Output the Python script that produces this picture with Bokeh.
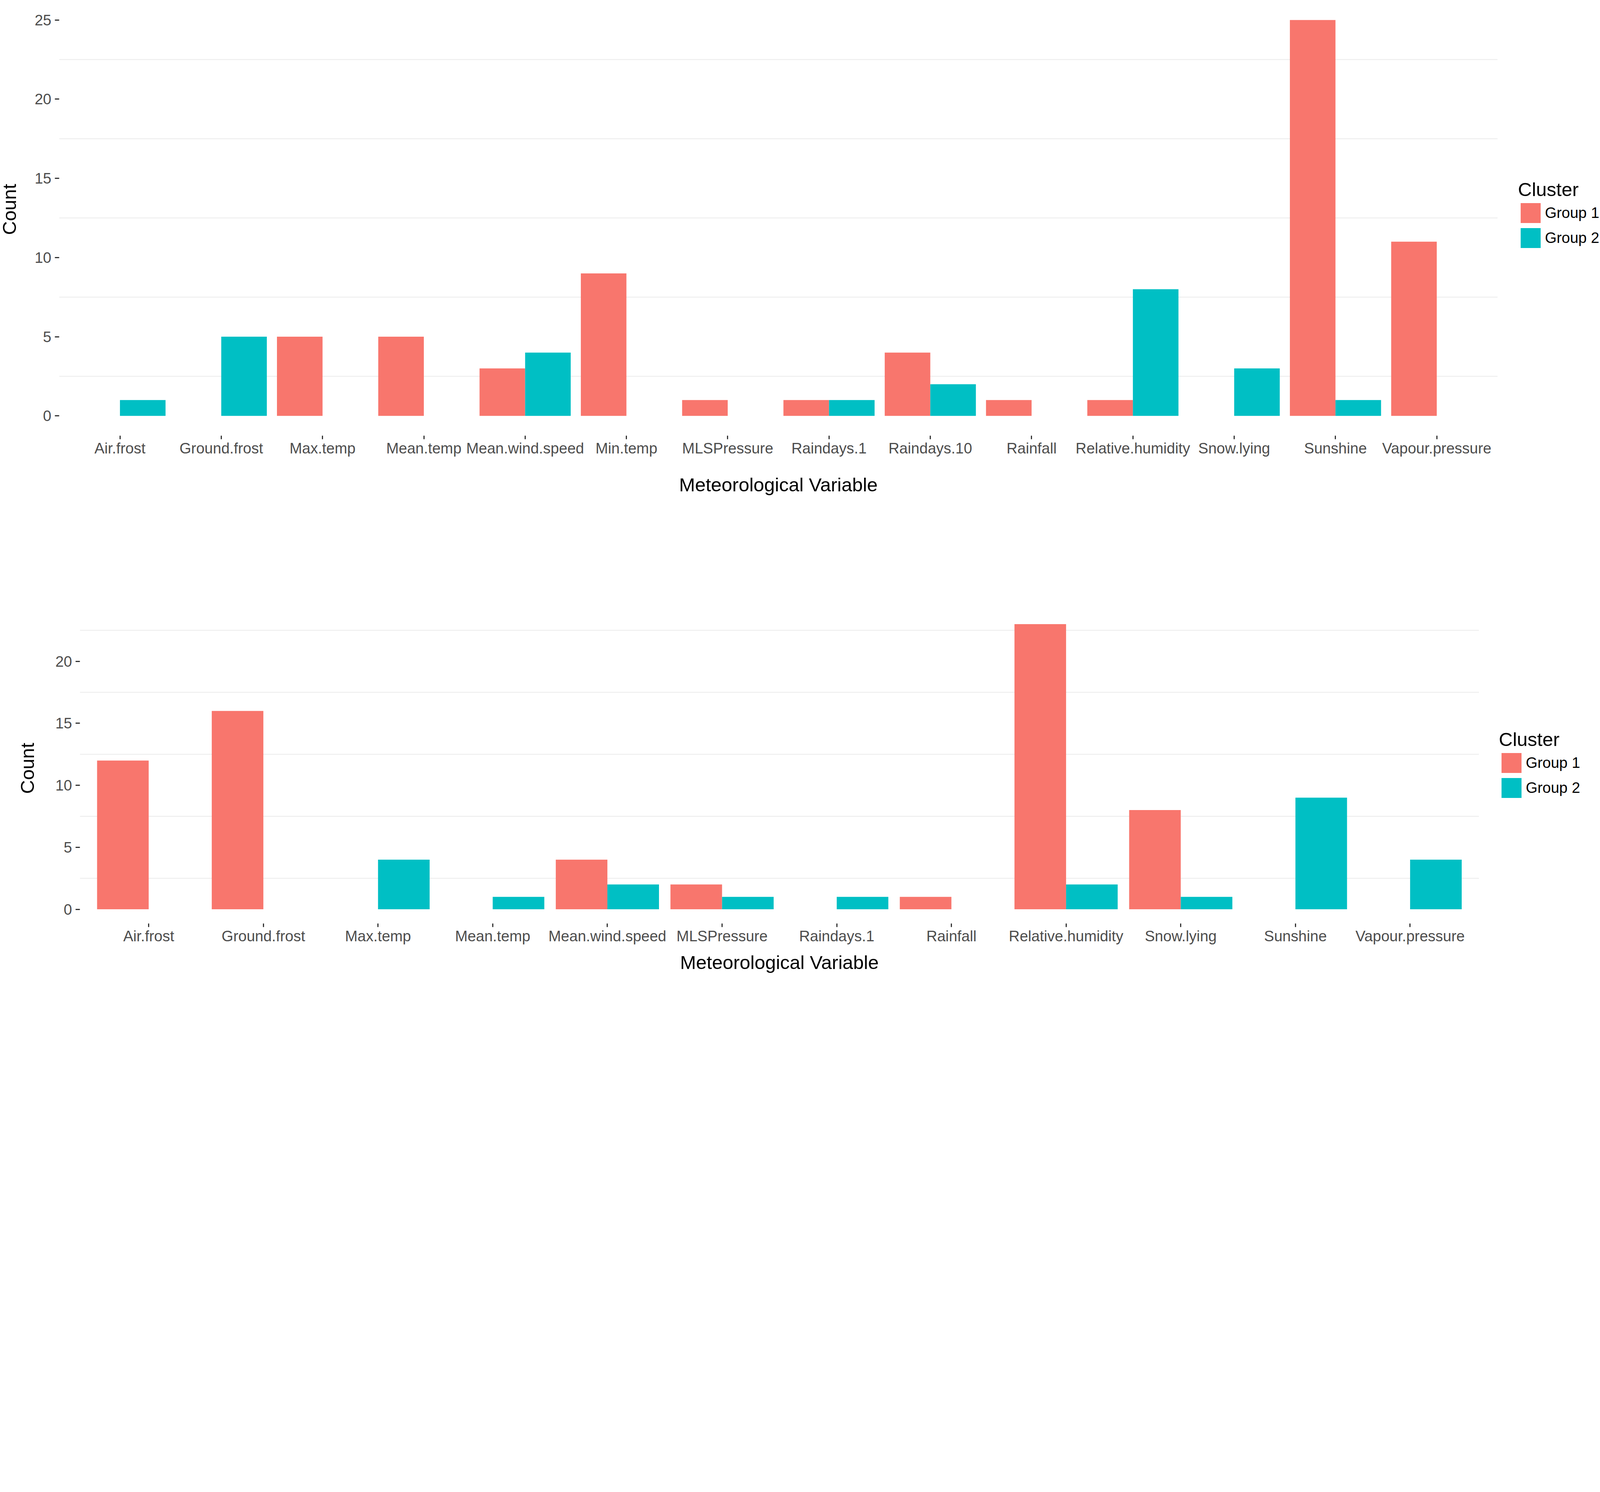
import math
from bokeh.plotting import figure
from bokeh.models import (Range1d, FixedTicker, Legend, LegendItem, ColumnDataSource, Label)
from bokeh.transform import dodge
from bokeh.layouts import column, row
from bokeh.embed import file_html
from bokeh.resources import INLINE

# ---------------- data ----------------
top_vars = ["Air.frost", "Ground.frost", "Max.temp", "Mean.temp", "Mean.wind.speed",
            "Min.temp", "MLSPressure", "Raindays.1", "Raindays.10", "Rainfall",
            "Relative.humidity", "Snow.lying", "Sunshine", "Vapour.pressure"]
top_group1 = [0, 0, 5, 5, 3, 9, 1, 1, 4, 1, 1, 0, 25, 11]
top_group2 = [1, 5, 0, 0, 4, 0, 0, 1, 2, 0, 8, 3, 1, 0]
top_yticks = [0, 5, 10, 15, 20, 25]
top_yminor = [2.5, 7.5, 12.5, 17.5, 22.5]

bot_vars = ["Air.frost", "Ground.frost", "Max.temp", "Mean.temp", "Mean.wind.speed",
            "MLSPressure", "Raindays.1", "Rainfall", "Relative.humidity", "Snow.lying",
            "Sunshine", "Vapour.pressure"]
bot_group1 = [12, 16, 0, 0, 4, 2, 0, 1, 23, 8, 0, 0]
bot_group2 = [0, 0, 4, 1, 2, 1, 1, 0, 2, 1, 9, 4]
bot_yticks = [0, 5, 10, 15, 20]
bot_yminor = [2.5, 7.5, 12.5, 17.5, 22.5]

group_names = ["Group 1", "Group 2"]
colors = ["#F8766D", "#00BFC4"]
legend_title = "Cluster"
x_title = "Meteorological Variable"
y_title = "Count"

FONT = "Liberation Sans"
TICK_FS = "38.5px"
TITLE_FS = "49px"
PAGE_W = 4096
BASE_SHIFT = 19   # baseline correction for Label text


def plain(w, h, yr=None, top=0, bottom=0):
    f = figure(frame_width=w, frame_height=h, x_range=Range1d(0, w),
               y_range=yr if yr is not None else Range1d(0, h),
               min_border_left=0, min_border_right=0, min_border_top=top,
               min_border_bottom=bottom, x_axis_location=None, y_axis_location=None,
               output_backend="svg", toolbar_location=None,
               background_fill_color="white", border_fill_color="white")
    f.outline_line_color = None
    f.grid.visible = False
    return f


def text_label(f, x, y, text, angle=0.0):
    f.add_layout(Label(x=x, y=y, text=text, angle=angle, text_align="center",
                       text_baseline="alphabetic", text_font=FONT,
                       text_font_size=TITLE_FS, text_color="black"))


def make_panel(cats, g1, g2, yticks, yminor, yr, panel_w, frame_h,
               left, top, bottom, leg_loc):
    n = len(cats)
    xi = list(range(1, n + 1))
    lo, hi = 0.4, n + 0.6                      # ggplot discrete expansion
    unit = panel_w / (hi - lo)
    frame_w = PAGE_W - left + 200
    xr = Range1d(lo, lo + frame_w / unit)

    src = ColumnDataSource(dict(x=xi, g1=g1, g2=g2))
    p = figure(x_range=xr, y_range=Range1d(*yr), frame_width=frame_w, frame_height=frame_h,
               min_border_left=left, min_border_right=0, min_border_top=top,
               min_border_bottom=bottom, output_backend="svg", toolbar_location=None,
               background_fill_color="white", border_fill_color="white")
    p.outline_line_color = None
    p.xgrid.grid_line_color = None
    p.ygrid.grid_line_color = None

    # minor horizontal grid lines, limited to the panel
    p.segment(x0=[lo] * len(yminor), x1=[hi] * len(yminor), y0=yminor, y1=yminor,
              line_color="#EBEBEB", line_width=2)

    r1 = p.vbar(x=dodge("x", -0.225), top="g1", bottom=0, width=0.45,
                source=src, fill_color=colors[0], line_color=None)
    r2 = p.vbar(x=dodge("x", 0.225), top="g2", bottom=0, width=0.45,
                source=src, fill_color=colors[1], line_color=None)

    p.xaxis.ticker = FixedTicker(ticks=xi)
    p.xaxis.major_label_overrides = {i: c for i, c in zip(xi, cats)}
    p.xaxis.bounds = (lo, hi)
    p.yaxis.ticker = FixedTicker(ticks=yticks)

    for ax in (p.xaxis[0], p.yaxis[0]):
        ax.axis_line_color = None
        ax.major_tick_line_color = "#333333"
        ax.major_tick_line_width = 3
        ax.minor_tick_line_color = None
        ax.major_tick_in = 0
        ax.major_label_text_font = FONT
        ax.major_label_text_font_size = TICK_FS
        ax.major_label_text_color = "#4D4D4D"

    p.xaxis.major_tick_out = 9
    p.xaxis.major_label_standoff = 1
    p.yaxis.major_tick_out = 11
    p.yaxis.major_label_standoff = 9

    leg = Legend(items=[LegendItem(label=group_names[0], renderers=[r1]),
                        LegendItem(label=group_names[1], renderers=[r2])],
                 location=leg_loc, title=legend_title,
                 title_text_font=FONT, title_text_font_size=TITLE_FS,
                 title_text_font_style="normal", title_text_color="black",
                 title_standoff=0,
                 label_text_font=FONT, label_text_font_size=TICK_FS, label_text_color="black",
                 glyph_width=64, glyph_height=64, spacing=-8, label_standoff=5,
                 padding=0, margin=0, border_line_color=None, background_fill_alpha=0)
    p.add_layout(leg, "center")
    return p


# ---- top chart ----
TOP_FH, TOP_BB, C1_W = 1115, 80, 60
p1 = make_panel(top_vars, top_group1, top_group2, top_yticks, top_yminor,
                (-1.25, 26.25), 3682.2, TOP_FH, 151 - C1_W, 0, TOP_BB, (3735, 474))
H1 = TOP_FH + TOP_BB
c1 = plain(C1_W, TOP_FH, yr=p1.y_range, top=0, bottom=TOP_BB)
text_label(c1, 42.0 - BASE_SHIFT, 13.04, y_title, angle=math.pi / 2)

T1_H = 300
t1 = plain(PAGE_W, T1_H)
text_label(t1, (151 + 3833.2) / 2, T1_H - (1259.9 - H1) + BASE_SHIFT, x_title)

# ---- bottom chart ----
BOT_TOP, BOT_FH, BOT_BB, C2_W = 66, 803, 80, 100
p2 = make_panel(bot_vars, bot_group1, bot_group2, bot_yticks, bot_yminor,
                (-1.15, 24.15), 3581.5, BOT_FH, 204 - C2_W, BOT_TOP, BOT_BB, (3633, 315))
H2 = BOT_TOP + BOT_FH + BOT_BB
Y2 = H1 + T1_H
c2 = plain(C2_W, BOT_FH, yr=p2.y_range, top=BOT_TOP, bottom=BOT_BB)
text_label(c2, 88.9 - BASE_SHIFT, 11.37, y_title, angle=math.pi / 2)

T2_H = 53
t2 = plain(PAGE_W, T2_H)
text_label(t2, (204 + 3785.5) / 2, T2_H - (2482.0 - Y2 - H2) + BASE_SHIFT, x_title)

layout = column(row(c1, p1), t1, row(c2, p2), t2, spacing=0)
open("out.html", "w").write(file_html(layout, INLINE))
